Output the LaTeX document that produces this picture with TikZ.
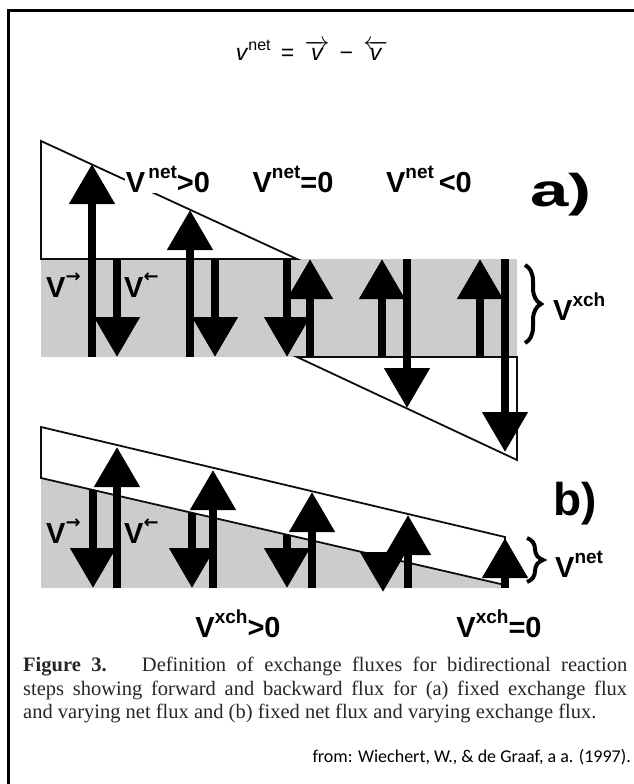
\documentclass[tikz,border=0pt]{standalone}
\usepackage{fontspec}
\setmainfont{Liberation Serif}
\setsansfont{Liberation Sans}
\newfontfamily\citefont{Carlito}
\newfontfamily\arrowfont{DejaVu Sans}
\usetikzlibrary{arrows.meta, decorations.pathreplacing}

\definecolor{cBand}{gray}{0.80}
\definecolor{cLine}{gray}{0.05}

\newcommand{\fluxlab}[2]{V\raisebox{0.45em}{\fontsize{19}{19}\selectfont #1}#2}
\newcommand{\dirlab}[1]{V\raisebox{0.5em}{\arrowfont\bfseries\fontsize{18}{18}\selectfont #1}}

\tikzset{
  font=\sffamily,
  band/.style={fill=cBand, draw=none},
  wedge/.style={draw=cLine, line width=1.8pt, line join=miter},
  flux/.style={-{Triangle[width=44pt, length=40pt]}, line width=8pt, draw=black},
  fluxlabel/.style={font=\sffamily\bfseries\fontsize{29}{29}\selectfont, inner sep=1pt, anchor=base},
  dirlabel/.style={fluxlabel, anchor=base west, inner sep=0pt},
  panellabel/.style={font=\sffamily\bfseries\fontsize{46}{46}\selectfont, anchor=base west, inner sep=0pt},
  bracebar/.style={decorate, decoration={brace, amplitude=16pt}, line width=4pt},
}

\begin{document}
\begin{tikzpicture}[x=1pt, y=-1pt]
  \useasboundingbox (0,0) rectangle (634,784);

  % frame (cut at right and bottom)
  \draw[line width=3pt] (8.5,784) -- (8.5,10.5) -- (634,10.5);

  % ----------------------------------------------------------------
  % Definition of the net flux
  % ----------------------------------------------------------------
  \node[font=\sffamily\fontsize{23}{23}\selectfont, anchor=base] (netdef) at (312,61)
    {\textit{v}\raisebox{0.45em}{\fontsize{16}{16}\selectfont net}\, = \,$\overrightarrow{\mbox{\itshape v}}$\, − \,$\overleftarrow{\mbox{\itshape v}}$};

  % ----------------------------------------------------------------
  % a) fixed exchange flux, varying net flux
  % ----------------------------------------------------------------
  \fill[band] (41,259) rectangle (517,357);
  \draw[wedge, fill=white] (41,141) -- (297,259) -- (41,259) -- cycle;
  \draw[wedge] (297,357) -- (517,357) -- (517,460) -- cycle;

  \foreach \x/\ya/\yb in {92/357/164, 117/259/357, 190/357/210, 215/259/357,
      287/259/357, 310/357/259, 382/357/259, 407/259/408, 480/357/259, 505/259/452}
    \draw[flux] (\x,\ya) -- (\x,\yb);

  \node[fluxlabel, fill=white] (netpos)  at (168,192) {\fluxlab{\,net}{>0}};
  \node[fluxlabel]             (netzero) at (293,192) {\fluxlab{net}{=0}};
  \node[fluxlabel]             (netneg)  at (429,192) {\fluxlab{net}{\,<0}};
  \node[panellabel]            (panela)  at (530,206) {\scalebox{1.5}[1]{a)}};

  \node[dirlabel] (fwda) at (46,297)  {\dirlab{→}};
  \node[dirlabel] (bwda) at (124,297) {\dirlab{←}};

  \draw[bracebar] (525,265) -- (525,343);
  \node[dirlabel] (xchsize) at (553,320) {\fluxlab{xch}{}};

  % ----------------------------------------------------------------
  % b) fixed net flux, varying exchange flux
  % ----------------------------------------------------------------
  \fill[band] (41,478) -- (505,585) -- (505,588) -- (41,588) -- cycle;
  \draw[wedge] (41,427) -- (505,537) -- (505,585) -- (41,478) -- cycle;

  \foreach \x/\ya/\yb in {93/490/588, 117/588/447, 192/513/588, 213/588/470,
      287/535/588, 312/588/492, 383/556/592, 408/588/515, 505/588/538}
    \draw[flux] (\x,\ya) -- (\x,\yb);

  \node[panellabel] (panelb) at (553,515) {b)};

  \node[dirlabel] (fwdb) at (46,543)  {\dirlab{→}};
  \node[dirlabel] (bwdb) at (124,543) {\dirlab{←}};

  \draw[bracebar] (527,538) -- (527,582);
  \node[dirlabel] (netsize) at (555,577) {\fluxlab{net}{}};

  \node[fluxlabel] (xchpos)  at (238,637) {\fluxlab{xch}{>0}};
  \node[fluxlabel] (xchzero) at (499,637) {\fluxlab{xch}{=0}};

  % ----------------------------------------------------------------
  % Caption and source
  % ----------------------------------------------------------------
  \node[anchor=north west, inner sep=0pt, text width=604pt, align=justify,
        font=\rmfamily\fontsize{20.5}{23.5}\selectfont, text=black!85] (caption) at (23,657)
    {\textbf{Figure 3.}\hspace{0.6em} Definition of exchange fluxes for bidirectional reaction\linebreak
     steps showing forward and backward flux for (a) fixed exchange flux\linebreak
     and varying net flux and (b) fixed net flux and varying exchange flux.};

  \node[anchor=base east, inner sep=0pt, font=\citefont\fontsize{18}{18}\selectfont] (source)
    at (631,762) {from: Wiechert, W., \& de Graaf, a a. (1997).};
\end{tikzpicture}
\end{document}
